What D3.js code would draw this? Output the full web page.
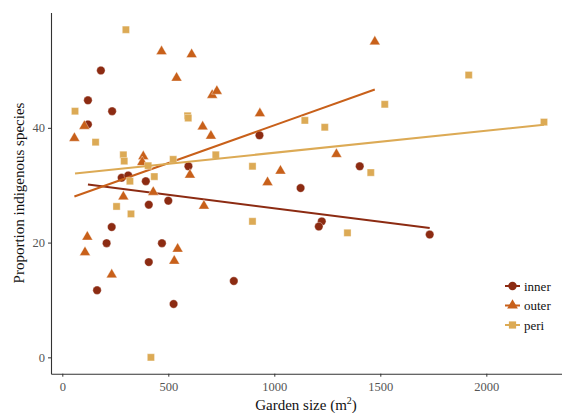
<!DOCTYPE html>
<html>
<head>
<meta charset="utf-8">
<script src="https://cdn.jsdelivr.net/npm/d3@7"></script>
<style>
  body { margin: 0; background: #fff; }
  svg { display: block; font-family: "Liberation Serif", "DejaVu Serif", serif; }
  .axis path, .axis line { stroke: #333; }
  .axis text { fill: #555; }
</style>
</head>
<body>
<div id="chart"></div>
<script>
// garden size (m2) and proportion of indigenous species, per zone
const innerSize = [182, 121, 121, 235, 280, 311, 394, 595, 930, 1124, 1403, 1224, 1210, 1733, 809, 408, 500, 233, 209, 470, 408, 164, 525];
const innerProp = [50.0, 44.8, 40.6, 42.9, 31.3, 31.7, 30.7, 33.3, 38.7, 29.5, 33.3, 23.7, 22.8, 21.4, 13.3, 26.6, 27.3, 22.7, 19.9, 19.9, 16.6, 11.7, 9.3];

const outerSize = [57, 104, 468, 610, 539, 382, 377, 429, 288, 707, 729, 932, 662, 701, 602, 1029, 968, 1474, 1293, 668, 118, 107, 544, 528, 233];
const outerProp = [38.2, 40.3, 53.3, 52.8, 48.7, 35.0, 34.0, 28.8, 28.0, 45.7, 46.4, 42.5, 40.2, 38.6, 31.8, 32.5, 30.5, 55.0, 35.4, 26.4, 21.0, 18.3, 18.9, 16.8, 14.4];

const periSize = [300, 60, 157, 591, 594, 288, 292, 405, 523, 434, 319, 256, 324, 418, 724, 897, 1144, 1238, 897, 1521, 1455, 1345, 1917, 2272];
const periProp = [57.1, 42.9, 37.5, 42.1, 41.7, 35.3, 34.2, 33.4, 34.5, 31.5, 30.7, 26.3, 25.0, 0, 35.3, 33.3, 41.3, 40.1, 23.7, 44.1, 32.2, 21.7, 49.2, 41.0];

const zones = ["inner", "outer", "peri"];
const xTicks = [0, 500, 1000, 1500, 2000];
const yTicks = [0, 20, 40];

const width = 562, height = 413;
const serif = "'Liberation Serif', 'DejaVu Serif', serif";
const colors = d3.scaleOrdinal().domain(zones).range(["#8c2b12", "#c8601a", "#dcaa55"]);
const shapes = d3.scaleOrdinal().domain(zones).range([d3.symbolCircle, d3.symbolTriangle, d3.symbolSquare]);
const sizes = { inner: 56, outer: 50, peri: 52 };

const series = [
  { zone: "inner", xs: innerSize, ys: innerProp },
  { zone: "outer", xs: outerSize, ys: outerProp },
  { zone: "peri", xs: periSize, ys: periProp }
].map(s => ({ ...s, pts: s.xs.map((x, i) => ({ x, y: s.ys[i] })) }));

const x = d3.scaleLinear().domain([-53.3, 2357]).range([51, 562]);
const y = d3.scaleLinear().domain([-2.85, 60.1]).range([373.7, 12.5]);

const svg = d3.select("#chart").append("svg")
  .attr("width", width)
  .attr("height", height);

svg.append("g")
  .attr("class", "axis")
  .attr("transform", `translate(0, ${y.range()[0]})`)
  .call(d3.axisBottom(x).tickValues(xTicks).tickFormat(d3.format("d"))
    .tickSize(3).tickSizeOuter(0).tickPadding(3))
  .call(g => g.selectAll("text").attr("dy", "0.9em"));

svg.append("g")
  .attr("class", "axis")
  .attr("transform", `translate(${x.range()[0]}, 0)`)
  .call(d3.axisLeft(y).tickValues(yTicks).tickSize(3).tickSizeOuter(0).tickPadding(3));

svg.selectAll(".axis")
  .attr("font-family", serif)
  .attr("font-size", 12.5);
svg.selectAll(".axis path").attr("stroke-width", 1.1);

// least squares fit per zone, drawn across the zone's own x range
function fit(pts) {
  const mx = d3.mean(pts, d => d.x), my = d3.mean(pts, d => d.y);
  const b = d3.sum(pts, d => (d.x - mx) * (d.y - my)) / d3.sum(pts, d => (d.x - mx) ** 2);
  const a = my - b * mx;
  const [x0, x1] = d3.extent(pts, d => d.x);
  return [{ x: x0, y: a + b * x0 }, { x: x1, y: a + b * x1 }];
}

const line = d3.line().x(d => x(d.x)).y(d => y(d.y));

const layers = svg.selectAll(".zone")
  .data(series)
  .enter()
  .append("g")
  .attr("class", "zone");

layers.selectAll(".pt")
  .data(d => d.pts.map(p => ({ ...p, zone: d.zone })))
  .enter()
  .append("path")
  .attr("class", "pt")
  .attr("transform", d => `translate(${x(d.x)}, ${y(d.y)})`)
  .attr("d", d => d3.symbol().type(shapes(d.zone)).size(sizes[d.zone])())
  .attr("fill", d => colors(d.zone))
  .attr("stroke", "#fff")
  .attr("stroke-opacity", 0.6)
  .attr("stroke-width", 0.6);

layers.append("path")
  .attr("class", "fit")
  .attr("d", d => line(fit(d.pts)))
  .attr("fill", "none")
  .attr("stroke", d => colors(d.zone))
  .attr("stroke-width", 2);

// axis titles
const xTitle = svg.append("text")
  .attr("x", 306)
  .attr("y", 410)
  .attr("text-anchor", "middle")
  .attr("font-size", 15)
  .attr("fill", "#111");
xTitle.append("tspan").text("Garden size (m");
xTitle.append("tspan").attr("font-size", 10).attr("dy", -6).text("2");
xTitle.append("tspan").attr("dy", 6).text(")");

svg.append("text")
  .attr("transform", "translate(24, 193) rotate(-90)")
  .attr("text-anchor", "middle")
  .attr("font-size", 15)
  .attr("fill", "#111")
  .text("Proportion indigenous species");

// legend
const legend = svg.append("g").attr("transform", "translate(505, 286)");
const item = legend.selectAll(".key")
  .data(zones)
  .enter()
  .append("g")
  .attr("class", "key")
  .attr("transform", (d, i) => `translate(0, ${i * 19.5})`);

item.append("line")
  .attr("x1", 0).attr("x2", 15)
  .attr("stroke", d => colors(d))
  .attr("stroke-width", 2);

item.append("path")
  .attr("transform", "translate(7.5, 0)")
  .attr("d", d => d3.symbol().type(shapes(d)).size(sizes[d])())
  .attr("fill", d => colors(d));

item.append("text")
  .attr("x", 19)
  .attr("dy", "0.35em")
  .attr("font-size", 13)
  .attr("fill", "#111")
  .text(d => d);
</script>
</body>
</html>
